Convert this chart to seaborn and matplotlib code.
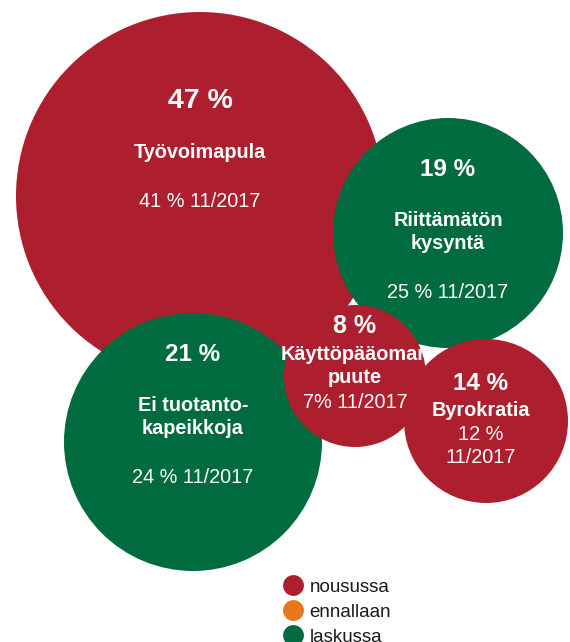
import pandas as pd
import seaborn as sns
from matplotlib import pyplot as plt
from matplotlib.lines import Line2D
from matplotlib.patches import Rectangle

sns.set_style("white")
plt.rcParams['font.family'] = ['Liberation Sans', 'DejaVu Sans']

# Data
nimet = ['Työvoimapula', 'Riittämätön\nkysyntä', 'Ei tuotanto-\nkapeikkoja', 'Käyttöpääoman\npuute', 'Byrokratia']
nyt = [47, 19, 21, 8, 14]
aiempi = ['41 % 11/2017', '25 % 11/2017', '24 % 11/2017', '7% 11/2017', '12 %\n11/2017']
suunta = ['nousussa', 'laskussa', 'laskussa', 'nousussa', 'nousussa']
suunnat = ['nousussa', 'ennallaan', 'laskussa']

# Layout (pixels)
kx = [200, 448, 193, 355, 486]
ky = [196, 233, 442, 376, 421]
kr = [184, 115, 129, 71, 82]

varit = {'nousussa': '#AD1F2F', 'ennallaan': '#E8761A', 'laskussa': '#006B3F'}

df = pd.DataFrame({'x': kx, 'y': ky, 'suunta': suunta})
koot = [(2 * r * 72 / 100) ** 2 for r in kr]

fig = plt.figure(figsize=(5.7, 6.42), dpi=100)
ax = fig.add_axes([0, 0, 1, 1])
sns.scatterplot(data=df, x='x', y='y', hue='suunta', palette=varit, s=koot,
                linewidth=0, legend=False, ax=ax)
ax.set_xlim(0, 570)
ax.set_ylim(642, 0)
ax.axis('off')

# Texts (baselines in pixels)
tx = [200, 448, 193, 355, 481]
y_pros = [108, 176, 361, 333, 390]
y_nimi = [158, 226, 411, 360, 416]
y_aiempi = [207, 298, 483, 408, 440]
koko_pros = [20.5, 17.5, 17.5, 18, 17.5]
rivi = [0, 23, 23, 23, 0]

for i in range(5):
    ax.text(tx[i], y_pros[i], f'{nyt[i]} %', color='white', fontsize=koko_pros[i],
            fontweight='bold', ha='center', va='baseline')
    rivit = nimet[i].split('\n')
    for j, r in enumerate(rivit):
        t = ax.text(tx[i], y_nimi[i] + j * rivi[i], r, color='white', fontsize=14.3,
                    fontweight='bold', ha='center', va='baseline')
        if i == 3 and j == 0:
            t.set_clip_path(Rectangle((0, 0), 423, 642, transform=ax.transData))
    for j, r in enumerate(aiempi[i].split('\n')):
        ax.text(tx[i], y_aiempi[i] + j * 23, r, color='white', fontsize=14.3,
                ha='center', va='baseline')

# Legend
kahvat = [Line2D([], [], marker='o', linestyle='', markersize=15,
                 markerfacecolor=varit[s], markeredgewidth=0) for s in suunnat]
ax.legend(kahvat, suunnat, loc='upper left', bbox_to_anchor=(274 / 570, 1 - 571 / 642),
          frameon=False, fontsize=13.5, handletextpad=0.3, labelspacing=0.42,
          borderaxespad=0, handlelength=1.2, labelcolor='#1a1a1a')

plt.savefig('out.png', dpi=100)
